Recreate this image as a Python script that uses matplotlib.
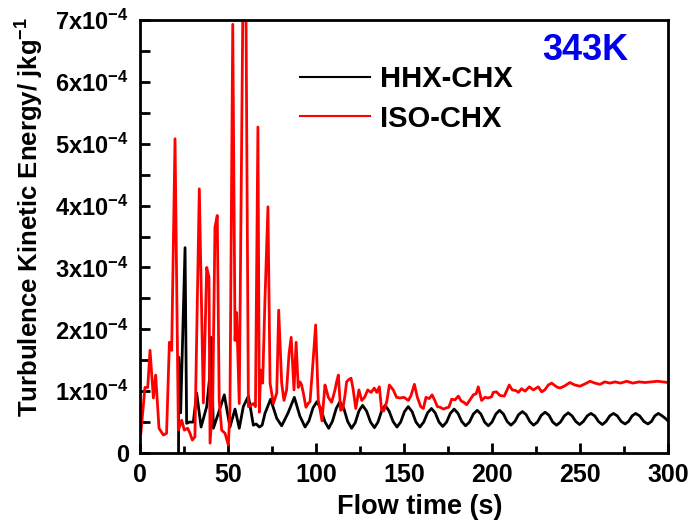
import numpy as np
import matplotlib
matplotlib.use('Agg')
from matplotlib import pyplot as plt
from matplotlib.lines import Line2D
from matplotlib.ticker import MultipleLocator, FixedLocator, FixedFormatter

plt.rcParams['font.family'] = ['Liberation Sans', 'DejaVu Sans']
plt.rcParams['font.weight'] = 'bold'
plt.rcParams['mathtext.fontset'] = 'custom'
plt.rcParams['mathtext.rm'] = 'Liberation Sans:bold'
plt.rcParams['mathtext.bf'] = 'Liberation Sans:bold'
plt.rcParams['mathtext.it'] = 'Liberation Sans:bold'

# TKE values in units of 1e-4 J/kg
isoTime = [0.5, 2.8, 4.4, 5.7, 7.6, 8.9, 10.8, 13.3, 15.1, 16.7, 18.0, 19.9, 21.8, 23.7, 25.2,
           27.1, 28.4, 29.7, 31.2, 33.7, 36.0, 37.9, 39.2, 39.8, 41.3, 42.6, 43.9, 45.0, 46.4,
           48.3, 50.2, 51.1, 52.7, 54.0, 54.9, 56.4, 59.5, 61.6, 62.9, 64.4, 65.6, 67.0, 67.8,
           68.6, 69.7, 71.0, 72.7, 73.9, 75.8, 77.7, 78.8, 80.5, 81.8, 83.3, 84.7, 85.9, 87.5,
           88.7, 89.9, 90.9, 91.8, 92.8, 94.3, 95.5, 96.6, 98.1, 99.8, 101.3, 102.3, 103.4,
           105.1, 106.3, 107.0, 108.9, 110.8, 111.7, 112.7, 114.0, 115.3, 116.5, 117.4, 118.3,
           119.9, 121.0, 122.6, 124.4, 126.0, 127.6, 129.4, 131.3, 133.1, 134.5, 136.0, 137.3,
           138.5, 140.2, 141.7, 143.9, 145.8, 147.7, 150.0, 152.5, 154.0, 155.9, 157.6, 159.5,
           161.0, 162.5, 164.3, 166.0, 167.5, 169.0, 170.5, 172.5, 174.0, 175.5, 177.1, 179.0,
           180.9, 182.5, 184.0, 185.6, 187.5, 189.4, 191.0, 192.2, 194.1, 196.0, 197.9, 199.8,
           200.7, 202.5, 204.5, 207.0, 209.8, 211.5, 213.5, 215.0, 216.8, 218.8, 221.2, 223.5,
           226.3, 228.2, 230.0, 232.0, 233.9, 236.7, 238.6, 241.0, 244.3, 247.0, 250.0, 253.0,
           255.7, 258.5, 261.4, 264.0, 267.0, 270.0, 273.0, 276.5, 280.0, 283.5, 287.0, 290.5,
           294.0, 297.0, 300.0]
isoTKE = [0.32, 1.06, 1.06, 1.66, 0.89, 1.26, 0.40, 0.29, 0.32, 1.79, 1.66, 5.08, 0.37, 0.53, 0.37,
          0.40, 0.32, 0.21, 0.26, 4.27, 0.81, 3.00, 2.84, 0.16, 0.80, 3.65, 3.84, 0.85, 0.37,
          0.32, 0.13, 0.69, 6.93, 1.82, 2.27, 0.80, 10.5, 0.75, 0.77, 0.80, 0.75, 5.27, 0.66,
          1.34, 1.13, 2.47, 3.98, 1.13, 0.80, 0.97, 2.31, 1.13, 0.85, 1.02, 1.61, 1.87, 1.02,
          1.79, 1.06, 1.15, 1.10, 0.97, 0.74, 0.80, 0.83, 1.39, 2.07, 0.85, 0.70, 0.52,
          1.10, 0.98, 0.90, 0.82, 1.02, 1.15, 1.26, 0.69, 0.72, 0.94, 1.15, 1.18,
          1.21, 1.05, 0.72, 1.02, 0.85, 0.90, 1.02, 0.98, 1.05, 0.98, 1.07, 0.69,
          0.68, 0.83, 1.10, 1.02, 0.90, 0.89, 0.90, 0.85, 0.93, 1.11, 0.90, 0.75,
          0.72, 0.90, 0.88, 0.94, 0.85, 0.75, 0.74, 0.71, 0.73, 0.74, 0.87, 0.86,
          0.92, 0.84, 0.82, 0.78, 0.86, 0.94, 0.96, 1.07, 0.85, 0.90, 0.89, 0.91,
          0.98, 0.99, 0.93, 0.92, 1.10, 1.02, 1.01, 0.98, 1.04, 1.00, 1.07, 1.02,
          1.07, 0.99, 1.02, 1.10, 1.13, 1.07, 1.05, 1.08, 1.14, 1.10, 1.08, 1.12,
          1.16, 1.13, 1.11, 1.15, 1.13, 1.15, 1.13, 1.16, 1.13, 1.15, 1.14, 1.15,
          1.16, 1.15, 1.14]

hhxTime = [21.9, 22.0, 23.1, 25.6, 26.5, 28.0, 30.3, 32.2, 34.7, 36.9, 37.9, 39.5, 40.3, 41.7,
           44.5, 47.9, 51.1, 54.0, 56.4, 58.7, 61.6, 64.4, 66.0, 67.8, 69.4, 71.0, 74.2, 77.7,
           80.5, 84.0, 87.7, 90.8, 93.8, 96.0, 98.3, 100.5, 102.7, 105.0, 107.2, 109.3, 111.5,
           113.6, 115.8, 118.0, 120.2, 122.3, 124.4, 126.5, 128.7, 131.0, 133.2, 135.2, 137.3,
           139.3, 141.5, 143.8, 146.0, 148.1, 150.3, 152.4, 154.6, 156.8, 159.0, 161.2, 163.4,
           165.6, 167.7, 169.9, 172.0, 174.2, 176.3, 178.5, 180.7, 182.8, 185.0, 187.2, 189.4,
           191.6, 193.7, 195.8, 197.9, 200.0, 202.2, 204.3, 206.5, 208.6, 210.8, 213.0, 215.1,
           217.3, 219.4, 221.5, 223.6, 225.8, 228.0, 230.2, 232.4, 234.5, 236.7, 238.9, 241.1,
           243.3, 245.5, 247.6, 249.8, 251.9, 254.1, 256.2, 258.4, 260.5, 262.7, 264.8, 266.9,
           269.0, 271.2, 273.4, 275.6, 277.6, 279.6, 281.6, 283.9, 286.3, 288.6, 290.6, 292.5,
           294.5, 296.7, 298.5, 300.0]
hhxTKE = [0.0, 1.55, 0.65, 3.32, 0.48, 0.50, 0.50, 0.97, 0.42, 0.65, 0.75, 1.20, 1.87, 0.40,
          0.64, 0.94, 0.42, 0.71, 0.40, 0.75, 0.92, 0.45, 0.47, 0.42, 0.45, 0.64, 0.87, 0.56,
          0.44, 0.64, 0.90, 0.60, 0.42, 0.52, 0.73, 0.83, 0.72, 0.51, 0.40, 0.51, 0.72,
          0.83, 0.72, 0.51, 0.40, 0.49, 0.68, 0.77, 0.68, 0.50, 0.41, 0.50, 0.68,
          0.77, 0.68, 0.51, 0.42, 0.50, 0.67, 0.75, 0.67, 0.50, 0.42, 0.50, 0.65,
          0.72, 0.65, 0.50, 0.43, 0.50, 0.64, 0.71, 0.64, 0.51, 0.44, 0.50, 0.63,
          0.69, 0.63, 0.50, 0.44, 0.50, 0.63, 0.69, 0.63, 0.51, 0.45, 0.51, 0.62,
          0.67, 0.62, 0.51, 0.45, 0.50, 0.61, 0.66, 0.61, 0.50, 0.45, 0.50, 0.60,
          0.65, 0.60, 0.51, 0.46, 0.51, 0.60, 0.64, 0.60, 0.51, 0.46, 0.51, 0.60,
          0.64, 0.60, 0.51, 0.47, 0.51, 0.60, 0.64, 0.60, 0.51, 0.47, 0.51, 0.60,
          0.64, 0.60, 0.56, 0.52]

yTickVals = [0, 1, 2, 3, 4, 5, 6, 7]
yTickLabels = ['0'] + [r'$%dx10^{-4}$' % v for v in yTickVals[1:]]
xTickVals = [0, 50, 100, 150, 200, 250, 300]

fig = plt.figure(figsize=(6.91, 5.25), dpi=100)
ax = fig.add_axes([0.2026, 0.1371, 0.7641, 0.8248])

ax.plot(hhxTime, np.array(hhxTKE) * 1e-4, color='black', lw=2.0, solid_joinstyle='round')
ax.plot(isoTime, np.array(isoTKE) * 1e-4, color='red', lw=2.0, solid_joinstyle='round')

ax.set_xlim(0, 300)
ax.set_ylim(0, 7e-4)

ax.xaxis.set_major_locator(FixedLocator(xTickVals))
ax.xaxis.set_minor_locator(MultipleLocator(25))
ax.yaxis.set_major_locator(FixedLocator([v * 1e-4 for v in yTickVals]))
ax.yaxis.set_major_formatter(FixedFormatter(yTickLabels))
ax.yaxis.set_minor_locator(MultipleLocator(0.5e-4))

ax.tick_params(axis='both', which='both', direction='in', width=2, top=False, right=False)
ax.tick_params(axis='x', which='major', length=7, pad=7, labelsize=18)
ax.tick_params(axis='x', which='minor', length=5)
ax.tick_params(axis='y', which='major', length=7, pad=8, labelsize=17)
ax.tick_params(axis='y', which='minor', length=7)
for lab in ax.get_xticklabels():
    lab.set_fontweight('bold')

for s in ax.spines.values():
    s.set_linewidth(2)

ax.set_xlabel('Flow time (s)', fontsize=19.5, fontweight='bold')
ax.xaxis.set_label_coords(0.53, -0.095)
ax.set_ylabel(r'Turbulence Kinetic Energy/ jkg$^{-1}$', fontsize=18.5, fontweight='bold')
ax.yaxis.set_label_coords(-0.178, 0.545)

handles = [Line2D([], [], color='black', lw=1.5), Line2D([], [], color='red', lw=1.5)]
ax.legend(handles, ['HHX-CHX', 'ISO-CHX'], loc='upper left', bbox_to_anchor=(0.303, 0.896),
          frameon=False, borderpad=0, borderaxespad=0, handlelength=2.4,
          handletextpad=0.35, labelspacing=0.4, prop={'size': 21, 'weight': 'bold'})

ax.text(0.843, 0.93, '343K', transform=ax.transAxes, color='#0000ee', fontsize=26,
        fontweight='bold', ha='center', va='center')

plt.savefig('out.png', dpi=100)
